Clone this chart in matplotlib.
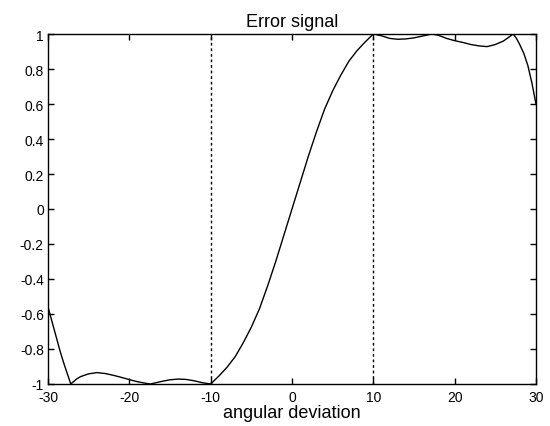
import matplotlib
matplotlib.use("Agg")
import matplotlib.pyplot as plt

#-----------------------------#
#       Data  #
#-----------------------------#

angle = [-30, -29.5, -29, -28.5, -28, -27.6, -27.2,
         -26.5, -26, -25, -24, -23, -22, -21, -20, -19, -18, -17.4,
         -16, -15, -14, -13, -12, -11, -10,
         -9, -8, -7, -6, -5, -4, -3, -2, -1, 0,
         1, 2, 3, 4, 5, 6, 7, 8, 9, 10,
         11, 12, 13, 14, 15, 16, 17.2,
         18, 19, 20, 21, 22, 23, 24, 25, 26, 26.7, 27.2,
         27.6, 28, 28.5, 29, 29.5, 30]

error = [-0.56, -0.645, -0.73, -0.815, -0.89, -0.945, -1.0,
         -0.972, -0.958, -0.942, -0.935, -0.94, -0.95, -0.962, -0.975, -0.987, -0.996, -1.0,
         -0.985, -0.976, -0.972, -0.974, -0.982, -0.993, -1.0,
         -0.955, -0.905, -0.845, -0.765, -0.675, -0.57, -0.44, -0.30, -0.15, 0.0,
         0.15, 0.30, 0.44, 0.57, 0.675, 0.765, 0.845, 0.905, 0.955, 1.0,
         0.99, 0.975, 0.97, 0.972, 0.978, 0.988, 1.0,
         0.993, 0.975, 0.962, 0.952, 0.94, 0.932, 0.928, 0.94, 0.96, 0.983, 1.0,
         0.975, 0.94, 0.89, 0.82, 0.72, 0.6]

bounds = [-10, 10]
xticks = [-30, -20, -10, 0, 10, 20, 30]
yticks = [-1, -0.8, -0.6, -0.4, -0.2, 0, 0.2, 0.4, 0.6, 0.8, 1]
ytick_labels = ['-1', '-0.8', '-0.6', '-0.4', '-0.2', '0', '0.2', '0.4', '0.6', '0.8', '1']

#-----------------------------#
#            Plot
#-----------------------------#

plt.rcParams['font.family'] = ['Liberation Sans', 'DejaVu Sans']

fig = plt.figure(figsize=(5.5, 4.27), dpi=100)
ax = fig.add_axes([0.0873, 0.0984, 0.8872, 0.8196])

ax.plot(angle, error, color='black', linewidth=1.0)
for b in bounds:
    ax.plot([b, b], [-1, 1], color='black', linewidth=1.0, linestyle=(0, (2, 2)))

ax.set_xlim(-30, 30)
ax.set_ylim(-1, 1)
ax.set_xticks(xticks)
ax.set_xticklabels([str(t) for t in xticks])
ax.set_yticks(yticks)
ax.set_yticklabels(ytick_labels)
ax.tick_params(direction='in', top=True, right=True, length=4, width=1,
               labelsize=10, pad=3)
ax.tick_params(axis='x', pad=4.5)
for s in ax.spines.values():
    s.set_linewidth(1.0)

ax.set_title('Error signal', fontsize=13, pad=6)
ax.set_xlabel('angular deviation', fontsize=13, labelpad=0)

fig.savefig('out.png', dpi=100)
